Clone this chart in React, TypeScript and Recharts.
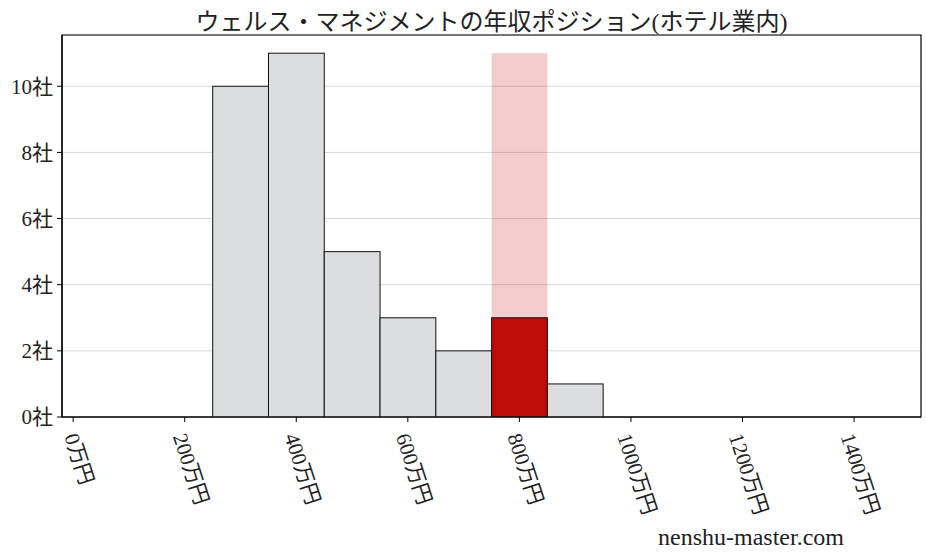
import React from "react";
import {
  ComposedChart,
  Bar,
  XAxis,
  YAxis,
  CartesianGrid,
  Cell,
  ReferenceArea,
} from "recharts";

// ---- data ----
const TITLE = "ウェルス・マネジメントの年収ポジション(ホテル業内)";
const WATERMARK = "nenshu-master.com";
const binCenters = [300, 400, 500, 600, 700, 800, 900]; // 万円
const binCounts = [10, 11, 5, 3, 2, 3, 1]; // 社
const highlightCenter = 800;
const highlightBackground = 11;
const xTicks = [0, 200, 400, 600, 800, 1000, 1200, 1400];
const yTicks = [0, 2, 4, 6, 8, 10];
const X_DOMAIN: [number, number] = [-20, 1520];
const Y_DOMAIN: [number, number] = [0, 11.55];
const BIN_WIDTH = 100;

// ---- layout / style ----
const W = 927;
const H = 557;
const MARGIN = { top: 35, right: 6, bottom: 0, left: 0 };
const Y_AXIS_W = 62;
const X_AXIS_H = 140;
const PLOT_W = W - MARGIN.left - MARGIN.right - Y_AXIS_W;
const BAR_SIZE = (PLOT_W * BIN_WIDTH) / (X_DOMAIN[1] - X_DOMAIN[0]);
const FONT = '"Liberation Serif", "Noto Sans CJK JP", serif';
const GRAY = "#dcdddf";
const RED = "#c00b0b";

const data = binCenters.map((x, i) => ({
  x,
  count: binCounts[i],
  bg: x === highlightCenter ? highlightBackground : null,
}));

const XTick = (props: any) => {
  const { x, y, payload } = props;
  const label = `${payload.value}万円`;
  const digits = String(payload.value).length;
  const len = digits * 10.5 + 42;
  const dx = 6 - 0.155 * len;
  return (
    <g transform={`translate(${x + dx},${y + 10})`}>
      <text
        transform="rotate(72)"
        textAnchor="start"
        dominantBaseline="central"
        fontSize={21}
        fontFamily={FONT}
        fill="#222"
      >
        {label}
      </text>
    </g>
  );
};

const WideBar = (props: any) => {
  const { x, y, width, height, fill, fillOpacity, stroke, strokeWidth } = props;
  if (height == null || !isFinite(height) || height <= 0) return null;
  const cx = x + width / 2;
  return (
    <rect
      x={cx - BAR_SIZE / 2}
      y={y}
      width={BAR_SIZE}
      height={height}
      fill={fill}
      fillOpacity={fillOpacity}
      stroke={stroke}
      strokeWidth={strokeWidth}
    />
  );
};

export default function App() {
  return (
    <div
      style={{
        position: "absolute",
        left: 0,
        top: 0,
        width: W,
        height: H,
        background: "#fff",
        fontFamily: FONT,
      }}
    >
      <div
        style={{
          position: "absolute",
          left: Y_AXIS_W,
          width: PLOT_W,
          top: 2,
          textAlign: "center",
          fontSize: 24,
          color: "#222",
          whiteSpace: "nowrap",
        }}
      >
        {TITLE}
      </div>
      <ComposedChart
        width={W}
        height={H}
        data={data}
        margin={MARGIN}
        barGap={0}
        barCategoryGap={0}
      >
        <CartesianGrid
          vertical={false}
          horizontal
          stroke="#d8d8d8"
          strokeWidth={1}
          xAxisId="main"
          yAxisId="left"
        />
        <XAxis
          xAxisId="main"
          dataKey="x"
          type="number"
          domain={X_DOMAIN}
          ticks={xTicks}
          allowDataOverflow
          interval={0}
          height={X_AXIS_H}
          tick={<XTick />}
          tickSize={5}
          axisLine={{ stroke: "#000", strokeWidth: 1.2 }}
          tickLine={{ stroke: "#000" }}
        />
        <XAxis
          xAxisId="top"
          dataKey="x"
          type="number"
          orientation="top"
          domain={X_DOMAIN}
          allowDataOverflow
          hide
        />
        <YAxis
          yAxisId="left"
          type="number"
          domain={Y_DOMAIN}
          ticks={yTicks}
          allowDataOverflow
          interval={0}
          width={Y_AXIS_W}
          tickSize={5}
          tickMargin={4}
          tickFormatter={(v: number) => `${v}社`}
          tick={{ fontSize: 21, fontFamily: FONT, fill: "#222" }}
          axisLine={{ stroke: "#000", strokeWidth: 1.2 }}
          tickLine={{ stroke: "#000" }}
        />
        <Bar
          xAxisId="top"
          yAxisId="left"
          dataKey="bg"
          fill={RED}
          fillOpacity={0.21}
          shape={<WideBar />}
          isAnimationActive={false}
        />
        <Bar
          xAxisId="main"
          yAxisId="left"
          dataKey="count"
          stroke="#111"
          strokeWidth={1}
          shape={<WideBar />}
          isAnimationActive={false}
        >
          {data.map((d) => (
            <Cell key={d.x} fill={d.x === highlightCenter ? RED : GRAY} />
          ))}
        </Bar>
        <ReferenceArea
          xAxisId="main"
          yAxisId="left"
          x1={X_DOMAIN[0]}
          x2={X_DOMAIN[1]}
          y1={Y_DOMAIN[0]}
          y2={Y_DOMAIN[1]}
          fill="none"
          fillOpacity={0}
          stroke="#000"
          strokeWidth={1.2}
          ifOverflow="visible"
        />
      </ComposedChart>
      <div
        style={{
          position: "absolute",
          left: 600,
          width: 302,
          top: 524,
          textAlign: "center",
          fontSize: 24,
          color: "#222",
          whiteSpace: "nowrap",
        }}
      >
        {WATERMARK}
      </div>
    </div>
  );
}
